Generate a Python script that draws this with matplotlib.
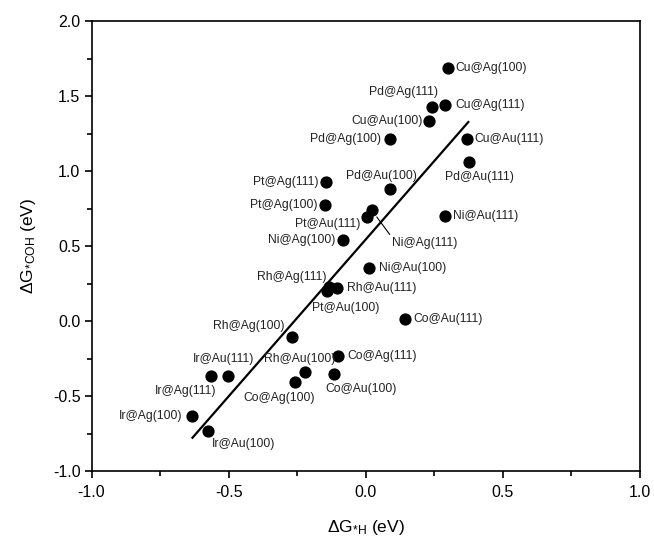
import numpy as np
import matplotlib
matplotlib.use('Agg')
import matplotlib.pyplot as plt
from matplotlib.ticker import MultipleLocator

plt.rcParams['font.family'] = ['Liberation Sans', 'DejaVu Sans']
plt.rcParams['mathtext.fontset'] = 'custom'
plt.rcParams['mathtext.rm'] = 'Liberation Sans'
plt.rcParams['mathtext.it'] = 'Liberation Sans'
plt.rcParams['mathtext.default'] = 'regular'

# data: dG(*H) vs dG(*COH), eV
names = ['Cu@Ag(100)', 'Pd@Ag(111)', 'Cu@Ag(111)', 'Cu@Au(100)', 'Pd@Ag(100)',
         'Cu@Au(111)', 'Pd@Au(111)', 'Pd@Au(100)', 'Pt@Ag(111)', 'Pt@Ag(100)',
         'Pt@Au(111)', 'Ni@Ag(111)', 'Ni@Au(111)', 'Ni@Ag(100)', 'Ni@Au(100)',
         'Rh@Ag(111)', 'Pt@Au(100)', 'Rh@Au(111)', 'Rh@Ag(100)', 'Co@Au(111)',
         'Co@Ag(111)', 'Rh@Au(100)', 'Co@Ag(100)', 'Co@Au(100)', 'Ir@Au(111)',
         'Ir@Ag(111)', 'Ir@Ag(100)', 'Ir@Au(100)']
dg_h = [0.30, 0.24, 0.29, 0.23, 0.09,
        0.37, 0.375, 0.09, -0.145, -0.148,
        0.004, 0.022, 0.289, -0.082, 0.013,
        -0.133, -0.14, -0.106, -0.269, 0.142,
        -0.10, -0.22, -0.257, -0.117, -0.501,
        -0.564, -0.632, -0.574]
dg_coh = [1.69, 1.43, 1.44, 1.335, 1.215,
          1.215, 1.06, 0.885, 0.93, 0.773,
          0.695, 0.74, 0.70, 0.54, 0.358,
          0.229, 0.20, 0.218, -0.104, 0.014,
          -0.23, -0.342, -0.404, -0.355, -0.367,
          -0.367, -0.631, -0.733]

# linear fit line end points
fit_x = [-0.632, 0.374]
fit_y = [-0.778, 1.329]

# label placement: offset in pixels (right, down) and alignment
label_pos = [(7, 0, 'left'), (-28, -15, 'center'), (10, 0, 'left'), (-6, 0, 'right'),
             (-9, 0, 'right'), (7, 0, 'left'), (11, 15, 'center'), (-9, -13, 'center'),
             (-8, 0, 'right'), (-8, 0, 'right'), (-7, 7, 'right'), (20, 33, 'left'),
             (8, 0, 'left'), (-8, 0, 'right'), (10, 0, 'left'), (-3, -10, 'right'),
             (18, 17, 'center'), (10, 0, 'left'), (-8, -11, 'right'), (9, 0, 'left'),
             (9, 0, 'left'), (-6, -13, 'center'), (-16, 16, 'center'), (27, 15, 'center'),
             (-5, -17, 'center'), (-25, 15, 'center'), (-10, 0, 'right'), (35, 13, 'center')]

dpi = 100
fig = plt.figure(figsize=(6.54, 5.41), dpi=dpi)
ax = fig.add_axes([0.140, 0.1294, 0.8386, 0.8309])

ax.plot(fit_x, fit_y, color='black', linewidth=1.6, zorder=2)
ax.plot(dg_h, dg_coh, 'o', color='black', markersize=7.8, zorder=3)

px2pt = 72.0 / dpi
for name, x, y, (dx, dy, ha) in zip(names, dg_h, dg_coh, label_pos):
    if name == 'Ni@Ag(111)':
        ax.annotate(name, xy=(x, y), xytext=(dx * px2pt, -dy * px2pt),
                    textcoords='offset points', ha=ha, va='center', fontsize=8.7,
                    color='#222222',
                    arrowprops=dict(arrowstyle='-', color='black', lw=0.8,
                                    relpos=(0.0, 1.0), shrinkA=0, shrinkB=6))
    else:
        ax.annotate(name, xy=(x, y), xytext=(dx * px2pt, -dy * px2pt),
                    textcoords='offset points', ha=ha, va='center', fontsize=8.7,
                    color='#222222')

ax.set_xlim(-1.0, 1.0)
ax.set_ylim(-1.0, 2.0)
ax.xaxis.set_major_locator(MultipleLocator(0.5))
ax.xaxis.set_minor_locator(MultipleLocator(0.25))
ax.yaxis.set_major_locator(MultipleLocator(0.5))
ax.yaxis.set_minor_locator(MultipleLocator(0.25))
ax.xaxis.set_major_formatter(plt.FormatStrFormatter('%.1f'))
ax.yaxis.set_major_formatter(plt.FormatStrFormatter('%.1f'))
ax.tick_params(which='both', direction='out', top=False, right=False, width=1.2)
ax.tick_params(which='major', length=5, labelsize=11.5)
ax.tick_params(axis='x', which='major', pad=5)
ax.tick_params(axis='y', which='major', pad=3)
ax.tick_params(which='minor', length=3.5)
for s in ax.spines.values():
    s.set_linewidth(1.2)

ax.set_xlabel(r'$\Delta$G$_{*H}$ (eV)', fontsize=12.5, labelpad=13)
ax.set_ylabel(r'$\Delta$G$_{*COH}$ (eV)', fontsize=12.5, labelpad=11)

plt.savefig('out.png', dpi=dpi)
